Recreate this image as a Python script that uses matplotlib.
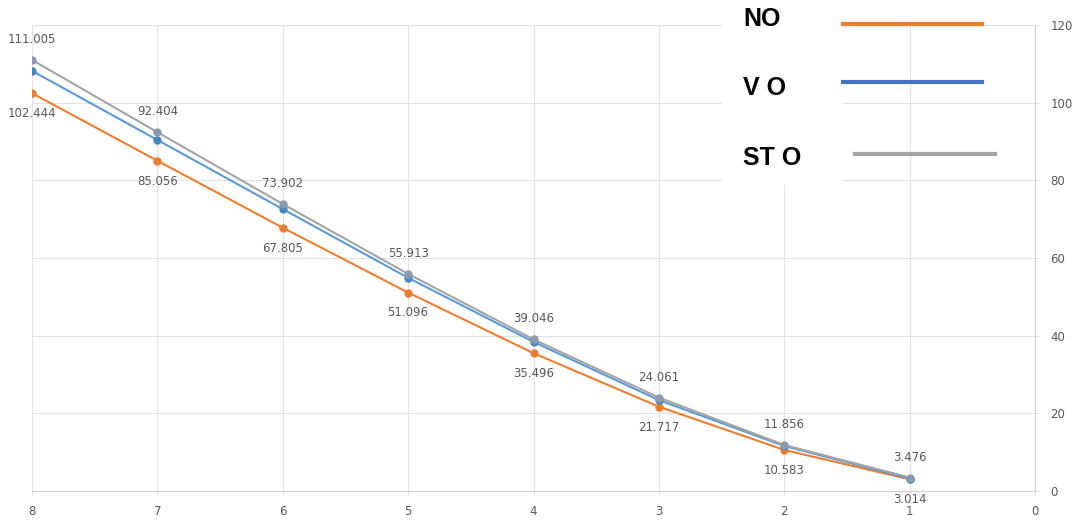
import numpy as np
import matplotlib
matplotlib.use("Agg")
from matplotlib import pyplot as plt
from matplotlib.lines import Line2D
from matplotlib.patches import Rectangle

x_vals = [8, 7, 6, 5, 4, 3, 2, 1]
no_vals = [102.444, 85.056, 67.805, 51.096, 35.496, 21.717, 10.583, 3.014]
vo_vals = [108.2, 90.4, 72.6, 54.9, 38.4, 23.4, 11.6, 3.2]
sto_vals = [111.005, 92.404, 73.902, 55.913, 39.046, 24.061, 11.856, 3.476]
series_names = ["NO", "V O", "ST O"]

orange = "#ED7D31"
blue = "#5B9BD5"
gray = "#A5A5A5"
text_col = "#595959"
grid_col = "#E2E2E2"

W, H = 1082, 521
fig = plt.figure(figsize=(W / 100, H / 100), dpi=100)
ax = fig.add_axes([32 / W, 30 / H, (1035 - 32) / W, (491 - 25) / H])

ax.plot(x_vals, no_vals, color=orange, lw=1.5, marker="o", ms=5, zorder=3)
ax.plot(x_vals, vo_vals, color=blue, lw=1.5, marker="o", ms=5,
        mfc="#4A86C0", mec="#4A86C0", zorder=4)
ax.plot(x_vals, sto_vals, color=gray, lw=1.5, marker="o", ms=5,
        mfc="#8C9AAE", mec="#8C9AAE", zorder=5)

for xv, yv in zip(x_vals, sto_vals):
    ax.annotate(f"{yv:.3f}", (xv, yv), xytext=(0, 10), textcoords="offset points",
                ha="center", va="bottom", fontsize=8.5, color=text_col)
for xv, yv in zip(x_vals, no_vals):
    ax.annotate(f"{yv:.3f}", (xv, yv), xytext=(0, -10), textcoords="offset points",
                ha="center", va="top", fontsize=8.5, color=text_col)

ax.set_xlim(8, 0)
ax.set_ylim(0, 120)
ax.set_xticks(range(0, 9))
ax.set_yticks(range(0, 121, 20))
ax.grid(True, color=grid_col, lw=0.8)
ax.set_axisbelow(True)

ax.yaxis.tick_right()
ax.tick_params(axis="y", length=3, color=grid_col, labelcolor=text_col,
               labelsize=8.5, pad=8)
ax.tick_params(axis="x", length=3, color=grid_col, labelcolor=text_col,
               labelsize=8.5, pad=7)
for side in ["top", "left"]:
    ax.spines[side].set_visible(False)
for side in ["bottom", "right"]:
    ax.spines[side].set_color("#D0D0D0")

# legend block: white backing, bold names, sample lines
fig.patches.append(Rectangle((722 / W, 1 - 185 / H), (843 - 722) / W, 185 / H,
                             transform=fig.transFigure, facecolor="white",
                             edgecolor="none", zorder=10))
leg_text_y = [19, 88, 158]
leg_line = [(843, 982, 24, orange), (843, 982, 82, "#4472C4"), (855, 995, 154, gray)]
for name, ty in zip(series_names, leg_text_y):
    fig.text(743 / W, 1 - ty / H, name, fontsize=18, fontweight="bold",
             family="Liberation Sans", color="black", va="center", ha="left", zorder=11)
for x0, x1, ly, c in leg_line:
    fig.lines.append(Line2D([x0 / W, x1 / W], [1 - ly / H, 1 - ly / H],
                            transform=fig.transFigure, color=c, lw=3, zorder=11))

fig.savefig("out.png", dpi=100)
